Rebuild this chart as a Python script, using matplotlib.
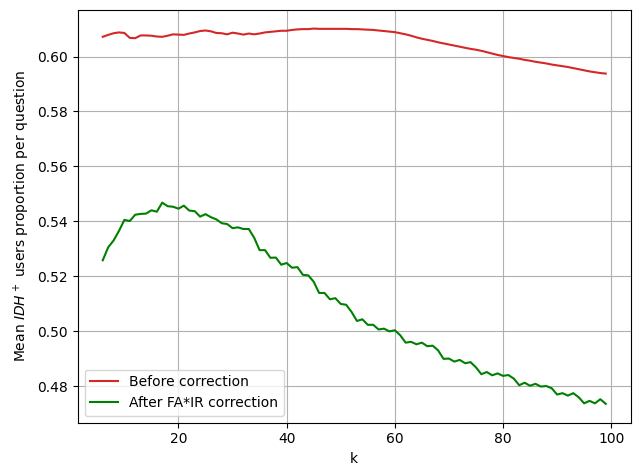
import numpy as np
import matplotlib
matplotlib.use("Agg")
import matplotlib.pyplot as plt

k = np.arange(6, 100)

before = [
    0.6072, 0.6079, 0.6085, 0.6088, 0.6086, 0.6068, 0.6067, 0.6077, 0.6077, 0.6076,
    0.6073, 0.6072, 0.6076, 0.6081, 0.6080, 0.6079, 0.6084, 0.6088, 0.6093, 0.6095,
    0.6092, 0.6086, 0.6085, 0.6081, 0.6087, 0.6084, 0.6080, 0.6084, 0.6081, 0.6084,
    0.6088, 0.6090, 0.6092, 0.6094, 0.6094, 0.6097, 0.6099, 0.6100, 0.6100, 0.6102,
    0.6101, 0.6101, 0.6101, 0.6101, 0.6101, 0.6101, 0.6100, 0.6100, 0.6099, 0.6098,
    0.6097, 0.6095, 0.6093, 0.6091, 0.6089, 0.6085, 0.6081, 0.6076, 0.6070, 0.6065,
    0.6061, 0.6057, 0.6052, 0.6048, 0.6044, 0.6040, 0.6036, 0.6032, 0.6028, 0.6025,
    0.6021, 0.6016, 0.6011, 0.6006, 0.6002, 0.5998, 0.5995, 0.5992, 0.5988, 0.5985,
    0.5981, 0.5978, 0.5975, 0.5971, 0.5968, 0.5965, 0.5962, 0.5958, 0.5954, 0.5950,
    0.5946, 0.5943, 0.5940, 0.5938,
]

after = [
    0.5258, 0.5305, 0.5330, 0.5365, 0.5405, 0.5401, 0.5424, 0.5427, 0.5428, 0.5440,
    0.5435, 0.5468, 0.5455, 0.5453, 0.5446, 0.5457, 0.5439, 0.5437, 0.5417, 0.5426,
    0.5415, 0.5407, 0.5393, 0.5390, 0.5375, 0.5378, 0.5372, 0.5372, 0.5340, 0.5295,
    0.5295, 0.5267, 0.5268, 0.5242, 0.5248, 0.5231, 0.5233, 0.5205, 0.5203, 0.5180,
    0.5139, 0.5139, 0.5116, 0.5120, 0.5099, 0.5096, 0.5070, 0.5037, 0.5043, 0.5023,
    0.5023, 0.5006, 0.5009, 0.4999, 0.5003, 0.4985, 0.4958, 0.4961, 0.4952, 0.4958,
    0.4945, 0.4947, 0.4930, 0.4899, 0.4900, 0.4889, 0.4895, 0.4883, 0.4887, 0.4868,
    0.4843, 0.4851, 0.4839, 0.4846, 0.4837, 0.4840, 0.4827, 0.4803, 0.4812, 0.4801,
    0.4808, 0.4798, 0.4800, 0.4792, 0.4769, 0.4774, 0.4765, 0.4774, 0.4759, 0.4737,
    0.4746, 0.4737, 0.4752, 0.4735,
]

fig, ax = plt.subplots(figsize=(6.36, 4.67), dpi=100)
fig.subplots_adjust(left=0.122, right=0.992, top=0.979, bottom=0.095)
ax.plot(k, before, color="#d62728", label="Before correction")
ax.plot(k, after, color="green", label="After FA*IR correction")
ax.set_xlabel("k")
ax.set_ylabel(r"Mean $IDH^+$ users proportion per question")
ax.grid(True)
ax.legend(loc="lower left")
fig.savefig("out.png", dpi=100)
